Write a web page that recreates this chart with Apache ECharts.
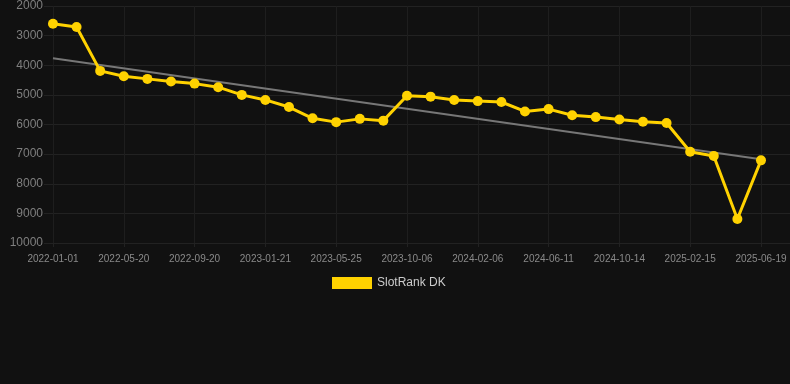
<!DOCTYPE html>
<html>
<head>
<meta charset="utf-8">
<script src="https://cdn.jsdelivr.net/npm/echarts@6/dist/echarts.min.js"></script>
<style>
html,body{margin:0;padding:0;background:#111111;}
#chart{width:790px;height:384px;}
</style>
</head>
<body>
<div id="chart"></div>
<script>
var categories = [
  "2022-01-01","2022-02-16","2022-04-03","2022-05-20","2022-06-30","2022-08-10",
  "2022-09-20","2022-10-31","2022-12-11","2023-01-21","2023-03-03","2023-04-14",
  "2023-05-25","2023-07-08","2023-08-22","2023-10-06","2023-11-16","2023-12-27",
  "2024-02-06","2024-03-18","2024-04-30","2024-06-11","2024-07-22","2024-09-02",
  "2024-10-14","2024-11-24","2025-01-05","2025-02-15","2025-03-28","2025-05-09",
  "2025-06-19"
];
var rankValues = [
  2600, 2710, 4190, 4370, 4460, 4550, 4620, 4740, 5000, 5170, 5410, 5790,
  5920, 5810, 5870, 5030, 5060, 5170, 5210, 5240, 5560, 5480, 5690, 5750,
  5830, 5910, 5950, 6920, 7060, 9190, 7210
];
var trendStart = 3760;
var trendEnd = 7170;
var yTicks = [2000, 3000, 4000, 5000, 6000, 7000, 8000, 9000, 10000];
var seriesName = "SlotRank DK";

var labelIdx = [];
for (var i = 0; i < categories.length; i += 3) labelIdx.push(i);
var seriesData = rankValues.map(function (v, i) { return [i, v]; });
var trendData = [[0, trendStart], [categories.length - 1, trendEnd]];

var chart = echarts.init(document.getElementById('chart'));
chart.setOption({
  backgroundColor: '#111111',
  animation: false,
  grid: { left: 44, right: 0, top: 6, bottom: 141, containLabel: false },
  legend: {
    top: 272,
    left: 327,
    itemWidth: 40,
    itemHeight: 12,
    icon: 'rect',
    data: [seriesName],
    textStyle: { color: '#cccccc', fontSize: 12, fontFamily: 'Liberation Sans, Arial, sans-serif' }
  },
  xAxis: {
    type: 'value',
    min: -0.38,
    max: 31.23,
    axisLine: { show: false },
    axisTick: { show: true, customValues: labelIdx, length: 4, lineStyle: { color: '#222' } },
    splitLine: { show: true, lineStyle: { color: '#1e1e1e', width: 1 } },
    axisLabel: {
      customValues: labelIdx,
      color: '#8a8a8a',
      fontSize: 10,
      margin: 11,
      fontFamily: 'Liberation Sans, Arial, sans-serif',
      formatter: function (v) { return categories[Math.round(v)] || ''; }
    }
  },
  yAxis: {
    type: 'value',
    inverse: true,
    min: yTicks[0],
    max: yTicks[yTicks.length - 1],
    interval: 1000,
    axisLine: { show: false },
    axisTick: { show: false },
    splitLine: { show: true, lineStyle: { color: '#222222', width: 1 } },
    axisLabel: {
      color: '#7f7f7f',
      fontSize: 12,
      margin: 1,
      fontFamily: 'Liberation Sans, Arial, sans-serif',
      formatter: function (v) { return String(v); }
    }
  },
  series: [
    {
      name: 'trend',
      type: 'line',
      data: trendData,
      symbol: 'none',
      silent: true,
      lineStyle: { color: '#777777', width: 2 },
      z: 1
    },
    {
      name: seriesName,
      type: 'line',
      data: seriesData,
      symbol: 'circle',
      symbolSize: 10,
      itemStyle: { color: '#FFD200' },
      lineStyle: { color: '#FFD200', width: 3 },
      z: 3
    }
  ]
});
</script>
</body>
</html>
